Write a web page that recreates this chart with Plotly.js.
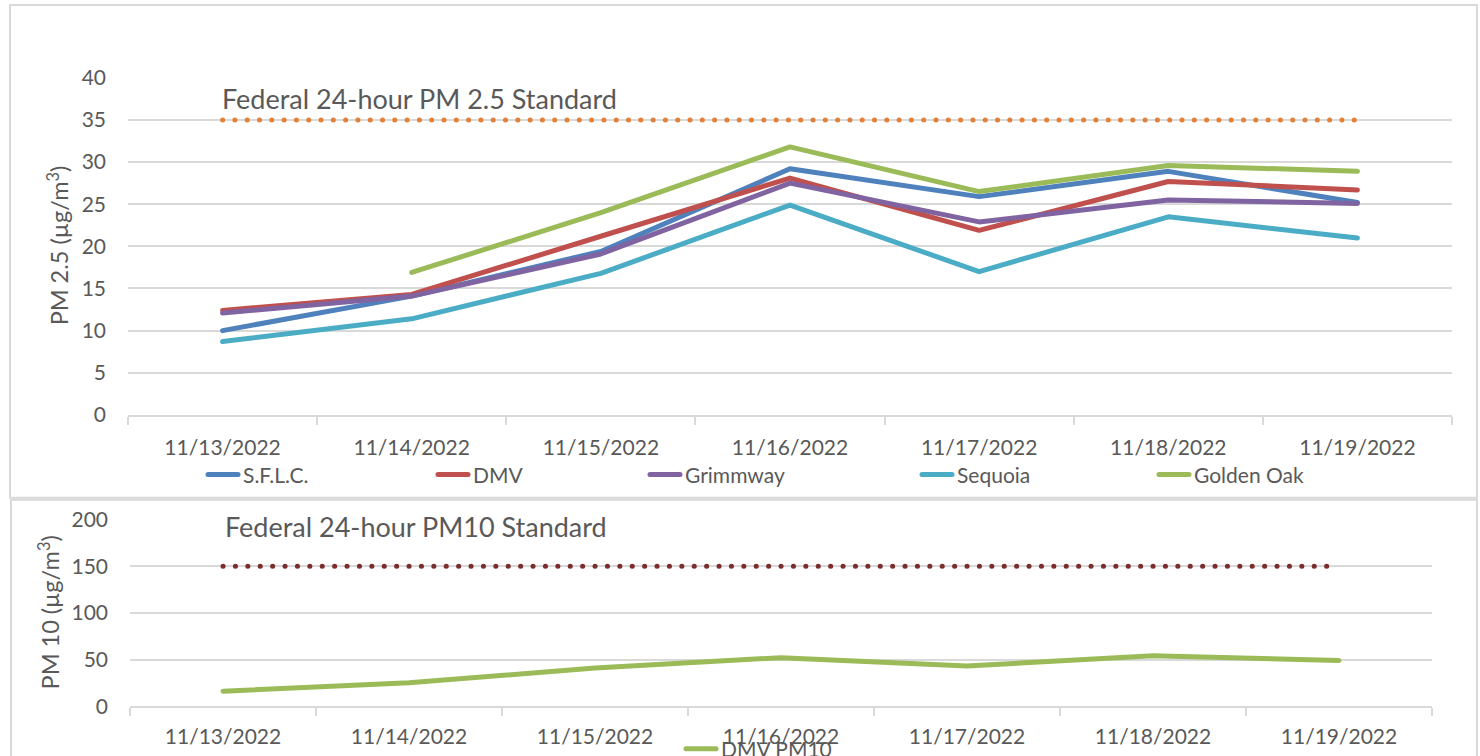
<!DOCTYPE html>
<html>
<head>
<meta charset="utf-8">
<script src="https://cdn.plot.ly/plotly-3.0.1.min.js"></script>
<style>
  html, body { margin: 0; padding: 0; background: #ffffff; overflow: hidden; }
  #chart { width: 1480px; height: 770px; }
  path.js-line { stroke-linecap: round !important; stroke-linejoin: round !important; }
</style>
</head>
<body>
<div id="chart"></div>
<script>
// ---- data ----
const dates = ['11/13/2022', '11/14/2022', '11/15/2022', '11/16/2022', '11/17/2022', '11/18/2022', '11/19/2022'];
const sflc      = [10.0, 14.1, 19.4, 29.2, 25.9, 28.9, 25.2];
const dmv       = [12.4, 14.3, 21.2, 28.1, 21.9, 27.7, 26.7];
const grimmway  = [12.1, 14.1, 19.1, 27.5, 22.9, 25.5, 25.1];
const sequoia   = [8.7, 11.4, 16.8, 24.9, 17.0, 23.5, 21.0];
const goldenOak = [null, 16.9, 24.0, 31.8, 26.5, 29.6, 28.9];
const pm25Standard = [35, 35, 35, 35, 35, 35, 35];
const dmvPm10      = [16, 25, 41, 52, 43, 54, 49];
const pm10Standard = [150, 150, 150, 150, 150, 150, 150];
const pm25Ticks = [0, 5, 10, 15, 20, 25, 30, 35, 40];
const pm10Ticks = [0, 50, 100, 150, 200];

// ---- styling ----
// The figure is a little taller than the 756px window so that, as in the
// reference, the bottom legend is partly cut off by the window edge.
const W = 1480, H = 770;
const FONT = 'Lato, "Open Sans", sans-serif';
const TXT = '#595959';
const GRID = '#D9D9D9';
const px = v => v / W;          // pixel -> paper x
const py = v => 1 - v / H;      // pixel -> paper y

function line(name, y, color, xa, ya, legend) {
  return {
    type: 'scatter', mode: 'lines', name: name, x: dates, y: y,
    xaxis: xa, yaxis: ya, legend: legend,
    line: { color: color, width: 5 },
    connectgaps: false, hoverinfo: 'skip'
  };
}

const traces = [
  Object.assign(line('std25', pm25Standard, '#E2823A', 'x', 'y', 'legend'),
    { showlegend: false, line: { color: '#E2823A', width: 5, dash: '0.1px,12.2px' } }),
  line('S.F.L.C.', sflc, '#4F81BD', 'x', 'y', 'legend'),
  line('DMV', dmv, '#C0504D', 'x', 'y', 'legend2'),
  line('Grimmway', grimmway, '#8064A2', 'x', 'y', 'legend3'),
  line('Sequoia', sequoia, '#4BACC6', 'x', 'y', 'legend4'),
  line('Golden Oak', goldenOak, '#9BBB59', 'x', 'y', 'legend5'),
  Object.assign(line('std10', pm10Standard, '#7B2C2C', 'x2', 'y2', 'legend6'),
    { showlegend: false, line: { color: '#7B2C2C', width: 5, dash: '0.1px,12.3px' } }),
  line('DMV PM10', dmvPm10, '#9BBB59', 'x2', 'y2', 'legend6')
];

function xAxis(d0, d1, anchor, standoff) {
  return {
    type: 'category', domain: [px(d0), px(d1)], anchor: anchor,
    range: [-0.5, 6.5], fixedrange: true,
    showgrid: false, showline: true, linecolor: GRID, linewidth: 2,
    ticks: 'outside', tickson: 'boundaries', ticklen: 8, tickcolor: GRID, tickwidth: 2,
    tickfont: { family: FONT, size: 21, color: TXT },
    ticklabelstandoff: standoff, zeroline: false
  };
}
function yAxis(top, bottom, range, ticks, anchor) {
  return {
    domain: [py(bottom), py(top)], anchor: anchor, range: range, fixedrange: true,
    tickmode: 'array', tickvals: ticks, ticktext: ticks.map(String),
    showgrid: true, gridcolor: GRID, gridwidth: 2,
    showline: false, zeroline: false, ticks: '',
    tickfont: { family: FONT, size: 21, color: TXT },
    ticklabelstandoff: 21
  };
}

function legendAt(xPix, yPix) {
  return {
    orientation: 'h', xref: 'paper', yref: 'paper',
    x: px(xPix), y: py(yPix), xanchor: 'left', yanchor: 'middle',
    bgcolor: 'rgba(0,0,0,0)', borderwidth: 0,
    font: { family: FONT, size: 21, color: TXT },
    itemclick: false, itemdoubleclick: false
  };
}

const layout = {
  width: W, height: H,
  margin: { l: 0, r: 0, t: 0, b: 0, pad: 0 },
  paper_bgcolor: '#ffffff', plot_bgcolor: 'rgba(0,0,0,0)',
  font: { family: FONT, color: TXT },
  xaxis: xAxis(128, 1452, 'y', 13),
  yaxis: yAxis(78, 416, [0, 40], pm25Ticks, 'x'),
  xaxis2: xAxis(130, 1432, 'y2', 11),
  yaxis2: yAxis(521, 708, [0, 200], pm10Ticks, 'x2'),
  legend:  legendAt(203, 476),
  legend2: legendAt(433, 476),
  legend3: legendAt(645, 476),
  legend4: legendAt(917, 476),
  legend5: legendAt(1154, 476),
  legend6: legendAt(681, 751),
  shapes: [
    { type: 'rect', xref: 'paper', yref: 'paper', x0: px(10), x1: px(1477), y0: py(499), y1: py(5),
      line: { color: GRID, width: 2 }, fillcolor: 'rgba(0,0,0,0)', layer: 'below' },
    { type: 'rect', xref: 'paper', yref: 'paper', x0: px(11), x1: px(1477), y0: py(769), y1: py(501),
      line: { color: GRID, width: 2 }, fillcolor: 'rgba(0,0,0,0)', layer: 'below' }
  ],
  annotations: [
    { text: 'Federal 24-hour PM 2.5 Standard', xref: 'paper', yref: 'paper',
      x: px(220), y: py(99), xanchor: 'left', yanchor: 'middle', showarrow: false,
      font: { family: FONT, size: 27, color: TXT } },
    { text: 'Federal 24-hour PM10 Standard', xref: 'paper', yref: 'paper',
      x: px(223), y: py(528), xanchor: 'left', yanchor: 'middle', showarrow: false,
      font: { family: FONT, size: 27, color: TXT } },
    { text: 'PM 2.5 (µg/m<sup>3</sup>)', xref: 'paper', yref: 'paper',
      x: px(58), y: py(246), xanchor: 'center', yanchor: 'middle', showarrow: false,
      textangle: -90, font: { family: FONT, size: 23.5, color: TXT } },
    { text: 'PM 10 (µg/m<sup>3</sup>)', xref: 'paper', yref: 'paper',
      x: px(49), y: py(614), xanchor: 'center', yanchor: 'middle', showarrow: false,
      textangle: -90, font: { family: FONT, size: 23.5, color: TXT } }
  ]
};

Plotly.newPlot('chart', traces, layout, { staticPlot: true, displayModeBar: false });
</script>
</body>
</html>
